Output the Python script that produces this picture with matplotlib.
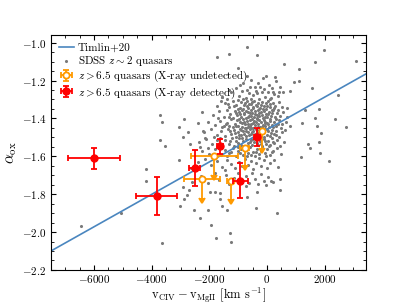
import matplotlib
matplotlib.use("Agg")
import matplotlib.pyplot as plt
from matplotlib.ticker import MultipleLocator
import numpy as np

plt.rcParams['font.family'] = 'serif'
plt.rcParams['font.serif'] = ['cmr10']
plt.rcParams['mathtext.fontset'] = 'cm'
plt.rcParams['axes.formatter.use_mathtext'] = True
plt.rcParams['axes.unicode_minus'] = True

# SDSS z~2 quasars
sdss_pts = [
    # outliers, right side
    (-686, -1.024), (-360, -1.063), (-1315, -1.061), (-1721, -1.077), (1989, -1.038),
    (1664, -1.102), (3095, -1.096), (605, -1.112), (1105, -1.139), (1570, -1.240),
    (2455, -1.275), (1791, -1.349), (1326, -1.354), (1664, -1.396), (2362, -1.405),
    (1210, -1.424), (1745, -1.442), (2757, -1.444), (1885, -1.475), (1431, -1.533),
    (1804, -1.523), (1489, -1.558), (1826, -1.581), (1198, -1.602), (2164, -1.624),
    (1105, -1.205), (954, -1.208), (803, -1.257), (291, -1.184), (-1000, -1.135),
    (-1547, -1.286),
    # outliers, left side
    (-3710, -1.382), (-3654, -1.421), (-3700, -1.514), (-3549, -1.546), (-4212, -1.665),
    (-4212, -1.730), (-5050, -1.898), (-3654, -2.059), (-6457, -1.968), (-3036, -1.620),
    (-2862, -1.402), (-3036, -1.447), (-2745, -1.472), (-2257, -1.366), (-2408, -1.426),
    (-2222, -1.468), (-2920, -1.500), (-2687, -1.535), (-2152, -1.503), (-2338, -1.553),
    (-2048, -1.556),
    # below the cloud
    (-2897, -1.761), (-2711, -1.779), (-2781, -1.802), (-2862, -1.828), (-3026, -1.860),
    (-2525, -1.882), (-2339, -1.926), (-2048, -1.884), (-1943, -1.961), (-1780, -2.029),
    (-1280, -2.003), (-1245, -2.053), (-1640, -1.828), (-1570, -1.863), (-1372, -1.884),
    (-1791, -1.790), (-1989, -1.786), (-1640, -1.793), (-708, -1.814), (-722, -1.759),
    (-360, -1.791), (-384, -1.872), (-24, -1.754), (150, -1.730), (464, -1.719),
    (454, -1.779), (349, -1.898),
    # cloud, top
    (-820, -1.215), (-560, -1.198), (-430, -1.232), (-150, -1.187), (60, -1.221),
    (180, -1.242), (320, -1.205), (-690, -1.248), (-300, -1.211), (-1060, -1.238),
    (-20, -1.176), (470, -1.236),
    (-1300, -1.252), (-930, -1.226), (-600, -1.232), (-350, -1.268), (-100, -1.247),
    (200, -1.262), (-250, -1.232), (-700, -1.178), (420, -1.258),
    (-1240, -1.262), (-980, -1.281), (-870, -1.255), (-720, -1.292), (-610, -1.268),
    (-480, -1.279), (-390, -1.254), (-260, -1.296), (-170, -1.263), (-60, -1.285),
    (40, -1.258), (130, -1.291), (260, -1.272), (380, -1.284), (-1400, -1.295),
    (-540, -1.300), (-820, -1.297), (90, -1.300), (560, -1.262), (-1550, -1.286),
    (-1720, -1.332), (-1460, -1.318), (-1330, -1.341), (-1180, -1.309), (-1090, -1.327),
    (-950, -1.346), (-890, -1.313), (-790, -1.331), (-700, -1.307), (-640, -1.345),
    (-570, -1.322), (-500, -1.338), (-440, -1.306), (-370, -1.329), (-300, -1.317),
    (-230, -1.344), (-160, -1.311), (-90, -1.336), (-30, -1.321), (50, -1.308),
    (120, -1.342), (200, -1.317), (290, -1.333), (410, -1.311), (520, -1.339),
    (-1010, -1.304), (-260, -1.349), (-620, -1.326), (-820, -1.352), (700, -1.347),
    (-1600, -1.309), (-1350, -1.322),
    (-1150, -1.335), (-1020, -1.352), (-760, -1.318), (-680, -1.337), (-530, -1.312),
    (-470, -1.344), (-330, -1.336), (-190, -1.327), (-120, -1.348), (0, -1.334),
    (90, -1.326), (160, -1.356), (240, -1.344),
    # cloud, middle
    (-1880, -1.383), (-1650, -1.362), (-1500, -1.391), (-1390, -1.357), (-1280, -1.378),
    (-1190, -1.396), (-1120, -1.361), (-1040, -1.384), (-970, -1.367), (-910, -1.392),
    (-850, -1.355), (-780, -1.379), (-720, -1.398), (-670, -1.364), (-610, -1.386),
    (-560, -1.353), (-510, -1.372), (-460, -1.394), (-410, -1.361), (-360, -1.381),
    (-310, -1.357), (-260, -1.389), (-210, -1.368), (-150, -1.397), (-100, -1.359),
    (-40, -1.376), (20, -1.393), (80, -1.364), (140, -1.385), (210, -1.358),
    (280, -1.391), (350, -1.372), (440, -1.386), (560, -1.365), (680, -1.392),
    (-1700, -1.399), (-590, -1.371), (-330, -1.399), (-20, -1.352), (-800, -1.372),
    (-1330, -1.392), (-1070, -1.370), (-940, -1.378), (-740, -1.361), (-640, -1.394),
    (-540, -1.385), (-430, -1.376), (-280, -1.372), (-180, -1.382), (-60, -1.391),
    (50, -1.378), (170, -1.371), (310, -1.401), (390, -1.358),
    (-2050, -1.418), (-1800, -1.436), (-1620, -1.412), (-1490, -1.441), (-1370, -1.423),
    (-1260, -1.405), (-1190, -1.447), (-1120, -1.428), (-1050, -1.411), (-990, -1.439),
    (-930, -1.421), (-870, -1.446), (-820, -1.404), (-760, -1.432), (-700, -1.416),
    (-650, -1.443), (-600, -1.409), (-550, -1.428), (-500, -1.449), (-450, -1.414),
    (-400, -1.435), (-350, -1.402), (-300, -1.427), (-250, -1.445), (-200, -1.417),
    (-150, -1.433), (-100, -1.408), (-50, -1.441), (0, -1.422), (60, -1.446),
    (120, -1.413), (190, -1.436), (260, -1.419), (330, -1.442), (420, -1.407),
    (530, -1.431), (650, -1.418), (800, -1.440), (-1560, -1.448), (-880, -1.425),
    (-520, -1.405), (-320, -1.448), (-60, -1.426), (-720, -1.449), (-1300, -1.438),
    (-1420, -1.431), (-1080, -1.442), (-960, -1.404), (-780, -1.418), (-670, -1.427),
    (-580, -1.438), (-470, -1.425), (-370, -1.419), (-270, -1.406), (-170, -1.444),
    (-80, -1.417), (30, -1.432), (90, -1.401), (220, -1.448), (380, -1.427),
    (480, -1.449),
    (-2200, -1.472), (-1950, -1.458), (-1750, -1.487), (-1600, -1.466), (-1460, -1.495),
    (-1350, -1.458), (-1240, -1.481), (-1160, -1.462), (-1080, -1.497), (-1010, -1.474),
    (-950, -1.455), (-890, -1.488), (-830, -1.469), (-770, -1.452), (-710, -1.491),
    (-660, -1.473), (-600, -1.457), (-540, -1.484), (-480, -1.466), (-420, -1.499),
    (-370, -1.454), (-310, -1.478), (-250, -1.461), (-190, -1.493), (-130, -1.471),
    (-70, -1.456), (-10, -1.485), (50, -1.467), (110, -1.494), (180, -1.459),
    (250, -1.482), (330, -1.468), (410, -1.496), (520, -1.474), (640, -1.459),
    (-1850, -1.496), (-560, -1.452), (-280, -1.497), (-900, -1.461),
    (-1290, -1.468), (-1120, -1.478), (-980, -1.486), (-800, -1.483), (-740, -1.467),
    (-630, -1.489), (-510, -1.471), (-400, -1.483), (-340, -1.462), (-220, -1.475),
    (-90, -1.496), (20, -1.458), (140, -1.476), (300, -1.489),
    # cloud, lower
    (-2350, -1.523), (-2100, -1.508), (-1900, -1.537), (-1720, -1.516), (-1580, -1.545),
    (-1450, -1.512), (-1330, -1.533), (-1210, -1.504), (-1130, -1.548), (-1060, -1.521),
    (-980, -1.506), (-910, -1.539), (-840, -1.517), (-780, -1.546), (-710, -1.509),
    (-640, -1.531), (-570, -1.514), (-510, -1.543), (-440, -1.525), (-380, -1.507),
    (-320, -1.538), (-250, -1.519), (-180, -1.547), (-110, -1.511), (-40, -1.534),
    (30, -1.518), (100, -1.541), (180, -1.506), (260, -1.529), (360, -1.513),
    (470, -1.544), (590, -1.522), (-1640, -1.502), (-1000, -1.549),
    (-1270, -1.518), (-1020, -1.528), (-870, -1.503), (-680, -1.548), (-600, -1.522),
    (-470, -1.508), (-350, -1.529), (-210, -1.536), (-70, -1.521), (60, -1.548),
    (200, -1.526),
    (-2250, -1.572), (-2000, -1.588), (-1800, -1.561), (-1600, -1.594), (-1450, -1.569),
    (-1320, -1.583), (-1180, -1.556), (-1080, -1.597), (-990, -1.574), (-900, -1.559),
    (-820, -1.591), (-740, -1.566), (-660, -1.585), (-580, -1.553), (-500, -1.578),
    (-420, -1.596), (-340, -1.563), (-260, -1.587), (-170, -1.558), (-80, -1.581),
    (10, -1.564), (110, -1.592), (220, -1.571), (340, -1.556), (480, -1.589),
    (-1380, -1.598),
    (-1250, -1.575), (-950, -1.582), (-700, -1.598), (-540, -1.592), (-380, -1.575),
    (-220, -1.571), (-40, -1.598), (160, -1.578),
    (-2400, -1.630), (-2150, -1.612), (-1950, -1.648), (-1750, -1.624), (-1550, -1.659),
    (-1380, -1.617), (-1230, -1.642), (-1100, -1.661), (-980, -1.628), (-870, -1.652),
    (-760, -1.613), (-660, -1.644), (-560, -1.626), (-470, -1.668), (-380, -1.634),
    (-290, -1.607), (-200, -1.649), (-100, -1.621), (0, -1.663), (120, -1.636),
    (260, -1.618), (400, -1.655), (-1450, -1.670), (-2650, -1.664),
    (-2300, -1.702), (-2050, -1.741), (-1800, -1.688), (-1650, -1.725), (-1420, -1.698),
    (-1300, -1.745), (-1150, -1.712), (-1000, -1.686), (-880, -1.733), (-740, -1.705),
    (-620, -1.741), (-520, -1.690), (-420, -1.722), (-320, -1.748), (-220, -1.696),
    (-100, -1.729), (50, -1.711), (220, -1.738), (-2600, -1.735),
]
sdss_dv = [p[0] for p in sdss_pts]
sdss_aox = [p[1] for p in sdss_pts]

# Timlin+20 relation
timlin_slope = 8.55e-5
timlin_icpt = -1.459

# z > 6.5 quasars, X-ray detected
det_dv = [-6000, -3830, -2510, -1620, -920, -350]
det_dv_err = [900, 700, 200, 100, 250, 100]
det_aox = [-1.61, -1.81, -1.66, -1.547, -1.728, -1.497]
det_aox_err = [0.055, 0.10, 0.095, 0.04, 0.09, 0.048]

# z > 6.5 quasars, X-ray undetected (upper limits)
und_dv = [-1830, -2260, -1260, -770, -170]
und_dv_err = [810, 630, 110, 160, 60]
und_aox = [-1.598, -1.718, -1.728, -1.557, -1.466]
und_arrow = [0.1, 0.1, 0.1, 0.09, 0.09]

fig, ax = plt.subplots(figsize=(4.07, 3.05), dpi=100)

xx = np.array([-7500, 3500])
ax.plot(xx, timlin_icpt + timlin_slope * xx, color='#4a86bf', lw=1.2,
        label='Timlin+20', zorder=2)
ax.scatter(sdss_dv, sdss_aox, s=5, color='#7a7a7a', lw=0,
           label=r'SDSS $z\sim2$ quasars', zorder=1)
ax.errorbar(und_dv, und_aox, xerr=und_dv_err, yerr=und_arrow, uplims=True,
            fmt='o', ms=4.5, mfc='white', mec='#ff9a00', mew=1.3,
            color='#ff9a00', elinewidth=1.3, capsize=2.2, capthick=1.3,
            label=r'$z>6.5$ quasars (X-ray undetected)', zorder=3)
ax.errorbar(det_dv, det_aox, xerr=det_dv_err, yerr=det_aox_err,
            fmt='o', ms=5, color='red', elinewidth=1.3, capsize=2.2, capthick=1.3,
            label=r'$z>6.5$ quasars (X-ray detected)', zorder=4)

ax.set_xlim(-7500, 3450)
ax.set_ylim(-2.2, -0.96)
ax.xaxis.set_major_locator(MultipleLocator(2000))
ax.xaxis.set_minor_locator(MultipleLocator(500))
ax.yaxis.set_major_locator(MultipleLocator(0.2))
ax.yaxis.set_minor_locator(MultipleLocator(0.05))
ax.tick_params(which='both', direction='in', top=True, right=True, labelsize=8)
ax.tick_params(axis='x', which='major', pad=2.5)
ax.tick_params(which='major', length=3.5)
ax.tick_params(which='minor', length=2)

ax.set_xlabel(r'$\rm v_{CIV} - v_{MgII}$ [km s$^{-1}$]', fontsize=9, labelpad=0)
ax.set_ylabel(r'$\alpha_{\rm ox}$', fontsize=11, labelpad=2)

ax.legend(loc='upper left', frameon=False, fontsize=8, handlelength=1.4,
          borderaxespad=0.3, labelspacing=0.1, handletextpad=0.3)

fig.subplots_adjust(left=0.125, right=0.9, bottom=0.115, top=0.885)
fig.savefig('out.png', dpi=100)
